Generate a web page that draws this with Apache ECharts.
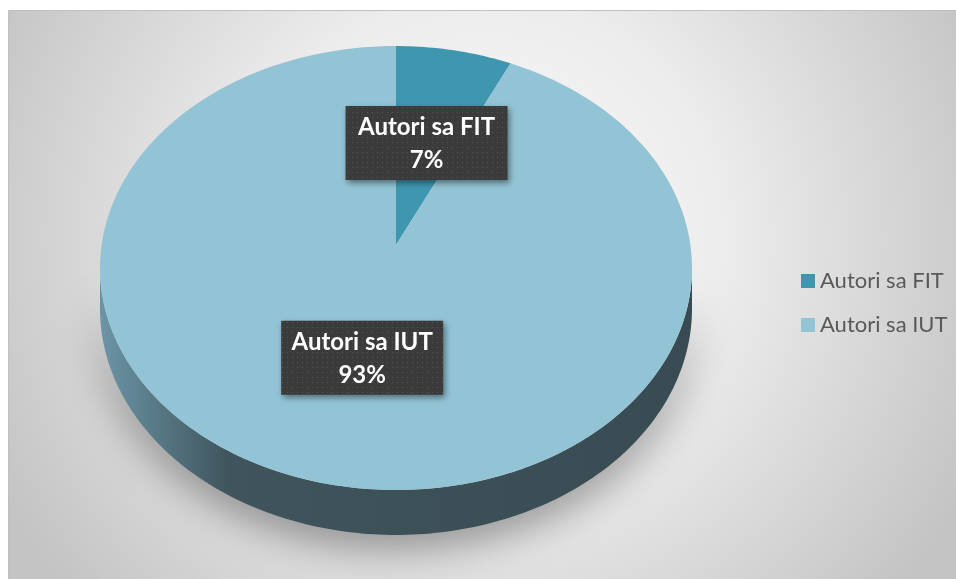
<!DOCTYPE html>
<html>
<head>
<meta charset="utf-8">
<script src="https://cdn.jsdelivr.net/npm/echarts@6/dist/echarts.min.js"></script>
<style>
html, body { margin: 0; padding: 0; background: #fff; }
#chart { width: 956px; height: 579px; }
</style>
</head>
<body>
<div id="chart"></div>
<script>
var categories = ['Autori sa FIT', 'Autori sa IUT'];
var values = [7, 93];
var colors = ['#3f97af', '#93c4d6'];

var myChart = echarts.init(document.getElementById('chart'));

// 3d pie geometry (perspective ellipse)
var cx = 396, cy = 245, rx = 294.4, ry = 219.6, persp = 0.1036, depth = 40.3;
var total = values.reduce(function (a, b) { return a + b; }, 0);

function proj(theta, r, drop) {
    var u = Math.sin(theta) * r, v = -Math.cos(theta) * r;
    var s = 1 / (1 - persp * v);
    return [cx + rx * u * s, cy + ry * v * s + drop * s];
}

// dotted texture for the label boxes
var pat = document.createElement('canvas');
pat.width = 5; pat.height = 5;
var pctx = pat.getContext('2d');
pctx.fillStyle = '#3b3b3b';
pctx.fillRect(0, 0, 5, 5);
pctx.fillStyle = '#555555';
pctx.fillRect(2, 2, 1, 1);

function drawSlice(i) {
    var before = 0;
    for (var k = 0; k < i; k++) before += values[k];
    var start = before / total * Math.PI * 2;
    var end = (before + values[i]) / total * Math.PI * 2;
    var n = Math.max(4, Math.round((end - start) / Math.PI * 180));
    var children = [];

    // visible side (front half)
    var f0 = Math.acos(-persp), f1 = Math.PI * 2 - Math.acos(-persp);
    var a = Math.max(start, f0), b = Math.min(end, f1);
    if (a < b) {
        var side = [], m = Math.round((b - a) / Math.PI * 180), j;
        for (j = 0; j <= m; j++) side.push(proj(a + (b - a) * j / m, 1, 0));
        for (j = m; j >= 0; j--) side.push(proj(a + (b - a) * j / m, 1, depth));
        children.push({
            type: 'polygon',
            z2: 1,
            shape: { points: side },
            style: {
                fill: new echarts.graphic.LinearGradient(0, 0, 1, 0, [
                    { offset: 0, color: '#6b95a6' },
                    { offset: 0.22, color: '#3f545c' },
                    { offset: 1, color: '#394b52' }
                ]),
                shadowBlur: 40,
                shadowOffsetY: 12,
                shadowColor: 'rgba(0,0,0,0.4)'
            }
        });
    }

    // top face
    var top = [proj(0, 0, 0)];
    for (var t = 0; t <= n; t++) top.push(proj(start + (end - start) * t / n, 1, 0));
    children.push({
        type: 'polygon',
        z2: 10,
        shape: { points: top },
        style: { fill: colors[i] }
    });

    // data label
    var pos = proj((start + end) / 2, 0.5, 0);
    var pct = Math.round(values[i] / total * 100);
    children.push({
        type: 'rect',
        z2: 100,
        shape: { x: pos[0] - 81, y: pos[1] - 37, width: 162, height: 74 },
        style: {
            fill: { image: pat, repeat: 'repeat' },
            shadowBlur: 6,
            shadowOffsetX: 2,
            shadowOffsetY: 3,
            shadowColor: 'rgba(0,0,0,0.45)'
        }
    });
    children.push({
        type: 'text',
        z2: 101,
        x: pos[0],
        y: pos[1] + 1,
        style: {
            text: categories[i] + '\n' + pct + '%',
            fill: '#ffffff',
            font: 'bold 24px Lato',
            align: 'center',
            verticalAlign: 'middle',
            lineHeight: 33
        }
    });
    return { type: 'group', children: children };
}

var seriesList = categories.map(function (name, i) {
    return {
        type: 'custom',
        name: name,
        coordinateSystem: 'none',
        itemStyle: { color: colors[i] },
        data: [values[i]],
        renderItem: function () { return drawSlice(i); }
    };
});

option = {
    backgroundColor: '#ffffff',
    animation: false,
    graphic: [{
        type: 'rect',
        left: 8,
        top: 10,
        z: -10,
        silent: true,
        shape: { width: 948, height: 569 },
        style: {
            fill: new echarts.graphic.RadialGradient(0.5, 0.4, 0.95, [
                { offset: 0, color: '#fbfbfb' },
                { offset: 0.45, color: '#ececec' },
                { offset: 1, color: '#c4c4c4' }
            ]),
            stroke: '#c0c0c0',
            lineWidth: 1
        }
    }],
    legend: {
        orient: 'vertical',
        left: 796,
        top: 264,
        icon: 'rect',
        itemWidth: 14,
        itemHeight: 14,
        itemGap: 20,
        data: categories,
        textStyle: {
            fontFamily: 'Lato',
            fontSize: 22,
            lineHeight: 24,
            color: '#595959'
        }
    },
    series: seriesList
};
myChart.setOption(option);
</script>
</body>
</html>
